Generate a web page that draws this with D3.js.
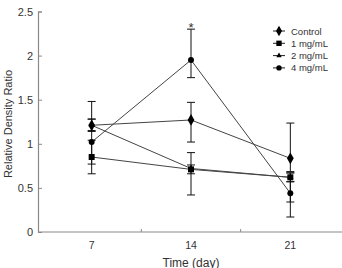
<!DOCTYPE html>
<html>
<head>
<meta charset="utf-8">
<script src="https://cdn.jsdelivr.net/npm/d3@7"></script>
<style>
  body { margin: 0; background: #fff; }
  svg { display: block; font-family: "Liberation Sans", Arial, sans-serif; }
</style>
</head>
<body>
<div id="chart"></div>
<script>
// Relative density ratio over time, 4 groups
const days = ['7', '14', '21'];
const seriesNames = ['Control', '1 mg/mL', '2 mg/mL', '4 mg/mL'];
const seriesSymbols = ['diamond', 'square', 'triangle', 'circle'];

const controlVals = [1.21, 1.27, 0.835];
const mg1Vals = [0.85, 0.71, 0.62];
const mg2Vals = [1.21, 0.72, 0.62];
const mg4Vals = [1.02, 1.95, 0.44];

// error bars as [plus, minus]
const controlErr = [[0.27, 0.06], [0.20, 0.25], [0.40, 0.15]];
const mg1Err = [[0.19, 0.19], [0.05, 0.05], [0.05, 0.05]];
const mg2Err = [[0.07, 0.07], [0.18, 0.30], [0.05, 0.28]];
const mg4Err = [[0.26, 0.25], [0.35, 0.20], [0.13, 0.27]];

const yTicks = [0, 0.5, 1, 1.5, 2, 2.5];

const series = seriesNames.map((name, i) => ({
    name,
    symbol: seriesSymbols[i],
    values: [controlVals, mg1Vals, mg2Vals, mg4Vals][i],
    err: [controlErr, mg1Err, mg2Err, mg4Err][i]
}));

const W = 342, H = 268;
const svg = d3.select('#chart').append('svg')
    .attr('width', W)
    .attr('height', H);

const x = d3.scaleBand().domain(days).range([42, 340]);
const y = d3.scaleLinear().domain([0, 2.5]).range([232, 11.5]);
const axisColor = '#8a8a8a';

// Y axis (ticks point inward)
const yAxis = svg.append('g')
    .attr('transform', 'translate(38,0)')
    .call(d3.axisRight(y).tickValues(yTicks).tickSize(4).tickFormat(d => d));
yAxis.select('.domain').attr('stroke', axisColor).attr('stroke-width', 1.2);
yAxis.selectAll('.tick line').attr('stroke', axisColor);
yAxis.selectAll('.tick text')
    .attr('x', -5)
    .attr('text-anchor', 'end')
    .style('font-size', '11px')
    .attr('fill', '#333');

// X axis
svg.append('line')
    .attr('x1', 38).attr('x2', W)
    .attr('y1', y(0)).attr('y2', y(0))
    .attr('stroke', axisColor).attr('stroke-width', 1.2);
svg.selectAll('.xtick')
    .data(days.slice(1))
    .enter().append('line')
    .attr('x1', d => x(d)).attr('x2', d => x(d))
    .attr('y1', y(0)).attr('y2', y(0) - 3)
    .attr('stroke', axisColor);
svg.selectAll('.xlabel')
    .data(days)
    .enter().append('text')
    .attr('x', d => x(d) + x.bandwidth() / 2)
    .attr('y', 249)
    .attr('text-anchor', 'middle')
    .style('font-size', '10.5px')
    .attr('fill', '#333')
    .text(d => d);

// Axis titles
svg.append('text')
    .attr('transform', 'translate(11.5,124) rotate(-90)')
    .attr('text-anchor', 'middle')
    .style('font-size', '11px')
    .attr('fill', '#333')
    .text('Relative Density Ratio');
svg.append('text')
    .attr('x', 191)
    .attr('y', 266.5)
    .attr('text-anchor', 'middle')
    .style('font-size', '12px')
    .attr('fill', '#333')
    .text('Time (day)');

const cx = d => x(d) + x.bandwidth() / 2;

// Lines
const line = d3.line()
    .x((v, i) => cx(days[i]))
    .y(v => y(v));
svg.selectAll('.series-line')
    .data(series)
    .enter().append('path')
    .attr('d', d => line(d.values))
    .attr('fill', 'none')
    .attr('stroke', '#444')
    .attr('stroke-width', 1);

// Error bars
series.forEach(s => {
    const g = svg.append('g');
    s.values.forEach((v, i) => {
        const px = cx(days[i]);
        const hi = y(v + s.err[i][0]);
        const lo = y(v - s.err[i][1]);
        g.append('line').attr('x1', px).attr('x2', px).attr('y1', hi).attr('y2', lo)
            .attr('stroke', '#111').attr('stroke-width', 1);
        [hi, lo].forEach(py => {
            g.append('line').attr('x1', px - 4).attr('x2', px + 4).attr('y1', py).attr('y2', py)
                .attr('stroke', '#111').attr('stroke-width', 1);
        });
    });
});

const symbolType = {
    diamond: d3.symbolDiamond,
    square: d3.symbolSquare,
    triangle: d3.symbolTriangle,
    circle: d3.symbolCircle
};
const symbolSize = { diamond: 40, square: 36, triangle: 16, circle: 28 };

// Markers (triangle first so it hides behind others)
[2, 1, 0, 3].forEach(k => {
    const s = series[k];
    svg.selectAll(null)
        .data(s.values)
        .enter().append('path')
        .attr('transform', (v, i) => `translate(${cx(days[i])},${y(v)})`)
        .attr('d', d3.symbol().type(symbolType[s.symbol]).size(symbolSize[s.symbol]))
        .attr('fill', '#000');
});

// Significance marker
svg.append('text')
    .attr('x', cx('14'))
    .attr('y', y(mg4Vals[1] + mg4Err[1][0]) + 3)
    .attr('text-anchor', 'middle')
    .style('font-size', '13px')
    .attr('fill', '#333')
    .text('*');

// Legend
const legend = svg.append('g').attr('transform', 'translate(273,31)');
series.forEach((s, i) => {
    const g = legend.append('g').attr('transform', `translate(0,${i * 12.3})`);
    g.append('line').attr('x1', 0).attr('x2', 12).attr('y1', 0).attr('y2', 0)
        .attr('stroke', '#222').attr('stroke-width', 1);
    g.append('path')
        .attr('transform', 'translate(6,0)')
        .attr('d', d3.symbol().type(symbolType[s.symbol]).size(symbolSize[s.symbol] * 0.8))
        .attr('fill', '#000');
    g.append('text')
        .attr('x', 18)
        .attr('y', 3.5)
        .style('font-size', '9.5px')
        .attr('fill', '#333')
        .text(s.name);
});
</script>
</body>
</html>
